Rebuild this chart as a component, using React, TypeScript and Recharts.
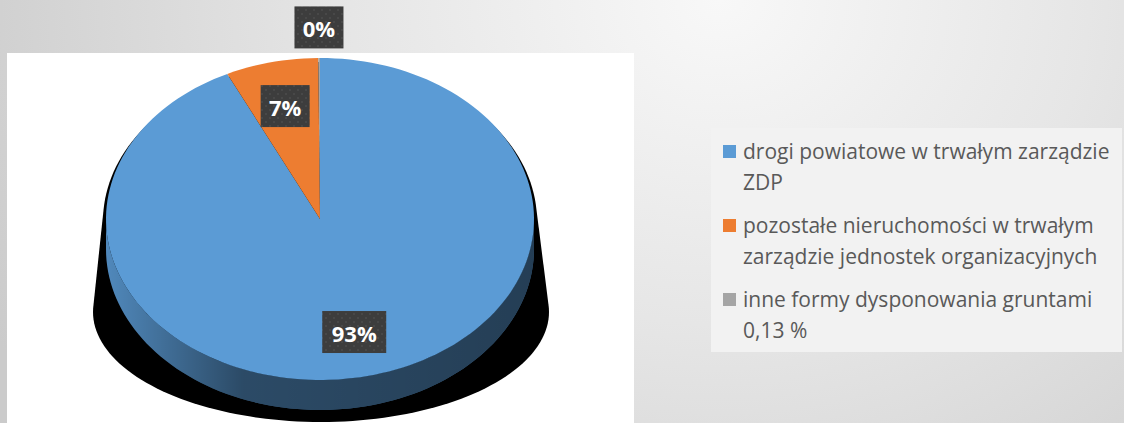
import React from "react";
import { PieChart, Pie, Cell, Legend } from "recharts";

const categories = [
  "drogi powiatowe w trwałym zarządzie ZDP",
  "pozostałe nieruchomości w trwałym zarządzie jednostek organizacyjnych",
  "inne formy dysponowania gruntami 0,13 %",
];
const shares = [92.87, 7.0, 0.13];
const colors = ["#5b9bd5", "#ed7d31", "#a5a5a5"];

const data = categories.map((name, i) => ({ name, value: shares[i] }));

// pie geometry (tilted 3D look)
const CX = 320;
const CY = 219;
const R = 214;
const K = 161 / 214; // vertical squash
const DEPTH = 30;

const pt = (cx: number, cy: number, r: number, deg: number, dy = 0) => {
  const a = (deg * Math.PI) / 180;
  return [cx + r * Math.cos(a), cy - r * K * Math.sin(a) + dy];
};

const arc = (cx: number, cy: number, r: number, a0: number, a1: number, dy = 0) => {
  const n = Math.max(2, Math.ceil(Math.abs(a1 - a0) / 2));
  const out: number[][] = [];
  for (let i = 0; i <= n; i++) out.push(pt(cx, cy, r, a0 + ((a1 - a0) * i) / n, dy));
  return out;
};

const toPath = (pts: number[][]) =>
  pts.map((p, i) => `${i ? "L" : "M"}${p[0].toFixed(2)},${p[1].toFixed(2)}`).join("") + "Z";

const SliceShape = (props: any) => {
  const { cx, cy, outerRadius, startAngle, endAngle, fill, index } = props;
  const lo = Math.min(startAngle, endAngle);
  const hi = Math.max(startAngle, endAngle);
  const walls: string[] = [];
  for (const k of [-1, 0, 1]) {
    const a = Math.max(lo, -180 + 360 * k);
    const b = Math.min(hi, 360 * k);
    if (b > a) {
      const top = arc(cx, cy, outerRadius, a, b);
      const bot = arc(cx, cy, outerRadius, b, a, DEPTH);
      walls.push(toPath([...top, ...bot]));
    }
  }
  const top = [[cx, cy], ...arc(cx, cy, outerRadius, startAngle, endAngle)];
  const gid = `wall-${index}`;
  return (
    <g>
      <defs>
        <linearGradient id={gid} gradientUnits="userSpaceOnUse" x1={cx - outerRadius} x2={cx + outerRadius} y1={0} y2={0}>
          <stop offset="0" stopColor="#000" stopOpacity={0.12} />
          <stop offset="0.32" stopColor="#000" stopOpacity={0.52} />
          <stop offset="1" stopColor="#000" stopOpacity={0.6} />
        </linearGradient>
      </defs>
      {walls.map((d, i) => (
        <g key={i}>
          <path d={d} fill={fill} />
          <path d={d} fill={`url(#${gid})`} />
        </g>
      ))}
      <path d={toPath(top)} fill={fill} />
    </g>
  );
};

const renderLabel = (props: any) => {
  const { cx, cy, midAngle, outerRadius, percent, index } = props;
  const f = percent < 0.01 ? 1.19 : 0.72;
  const [x, y] = pt(cx, cy, outerRadius * f, midAngle);
  const txt = `${Math.round(percent * 100)}%`;
  const w = 19 + 15 * txt.length;
  const h = 42;
  const pid = `dots-${index}`;
  return (
    <g>
      <defs>
        <pattern id={pid} width="8" height="8" patternUnits="userSpaceOnUse">
          <rect width="8" height="8" fill="#3d3d3d" />
          <circle cx="2" cy="2" r="1" fill="#4c4c4c" />
          <circle cx="6" cy="6" r="1" fill="#4c4c4c" />
        </pattern>
      </defs>
      <rect x={x - w / 2} y={y - h / 2} width={w} height={h} fill={`url(#${pid})`} />
      <text
        x={x}
        y={y + 1}
        textAnchor="middle"
        dominantBaseline="central"
        fill="#ffffff"
        fontFamily="'Open Sans', sans-serif"
        fontWeight={700}
        fontSize={22}
      >
        {txt}
      </text>
    </g>
  );
};

const renderLegend = (props: any) => {
  const { payload = [] } = props;
  const items = [...payload].sort(
    (a: any, b: any) => categories.indexOf(a.value) - categories.indexOf(b.value)
  );
  return (
    <div
      style={{
        background: "#f2f2f2",
        width: 411,
        height: 224,
        boxSizing: "border-box",
        padding: "8px 0 0 12px",
        fontFamily: "'Open Sans', sans-serif",
        fontSize: 21,
        color: "#595959",
      }}
    >
      {items.map((p: any, i: number) => (
        <div key={i} style={{ display: "flex", lineHeight: "31px", marginBottom: 12 }}>
          <span
            style={{
              width: 13,
              height: 13,
              background: colors[categories.indexOf(p.value)] || p.color,
              marginTop: 9,
              marginRight: 7,
              flexShrink: 0,
            }}
          />
          <span style={{ width: 374 }}>{p.value}</span>
        </div>
      ))}
    </div>
  );
};

// drop shadow behind the pie: hull of an ellipse hugging the pie top and a wider lower ellipse
const shadowPath = () => {
  const pts: number[][] = [];
  for (let d = 0; d < 360; d += 2) {
    const a = (d * Math.PI) / 180;
    pts.push([CX + 217 * Math.cos(a), CY + 2 + 159 * Math.sin(a)]);
    pts.push([CX + 1 + 228 * Math.cos(a), 312 + 110 * Math.sin(a)]);
  }
  pts.sort((p, q) => p[0] - q[0] || p[1] - q[1]);
  const cross = (o: number[], a: number[], b: number[]) =>
    (a[0] - o[0]) * (b[1] - o[1]) - (a[1] - o[1]) * (b[0] - o[0]);
  const lower: number[][] = [];
  for (const p of pts) {
    while (lower.length >= 2 && cross(lower[lower.length - 2], lower[lower.length - 1], p) <= 0) lower.pop();
    lower.push(p);
  }
  const upper: number[][] = [];
  for (let i = pts.length - 1; i >= 0; i--) {
    const p = pts[i];
    while (upper.length >= 2 && cross(upper[upper.length - 2], upper[upper.length - 1], p) <= 0) upper.pop();
    upper.push(p);
  }
  return toPath([...lower.slice(0, -1), ...upper.slice(0, -1)]);
};

export default function App() {
  return (
    <div
      style={{
        position: "absolute",
        left: 0,
        top: 0,
        width: 1124,
        height: 423,
        overflow: "hidden",
        background:
          "radial-gradient(ellipse 820px 720px at 720px 0px, #f8f8f8 0%, #e6e6e6 45%, #cbcbcb 100%)",
      }}
    >
      <div style={{ position: "absolute", left: 7, top: 53, width: 627, height: 370, background: "#ffffff" }} />
      <svg width={1124} height={423} style={{ position: "absolute", left: 0, top: 0 }}>
        <path d={shadowPath()} fill="#000" />
      </svg>
      <div style={{ position: "absolute", left: 0, top: 0 }}>
        <PieChart width={1124} height={423} margin={{ top: 0, right: 0, bottom: 0, left: 0 }}>
          <Pie
            data={data}
            dataKey="value"
            nameKey="name"
            cx={CX}
            cy={CY}
            outerRadius={R}
            startAngle={90}
            endAngle={-270}
            stroke="none"
            isAnimationActive={false}
            shape={SliceShape}
            inactiveShape={SliceShape}
            activeShape={SliceShape}
            label={renderLabel}
            labelLine={false}
          >
            {data.map((d, i) => (
              <Cell key={d.name} fill={colors[i]} />
            ))}
          </Pie>
          <Legend
            layout="vertical"
            verticalAlign="top"
            align="right"
            content={renderLegend}
            wrapperStyle={{ left: 711, top: 128, width: 411, height: 224, right: "auto" }}
          />
        </PieChart>
      </div>
    </div>
  );
}
